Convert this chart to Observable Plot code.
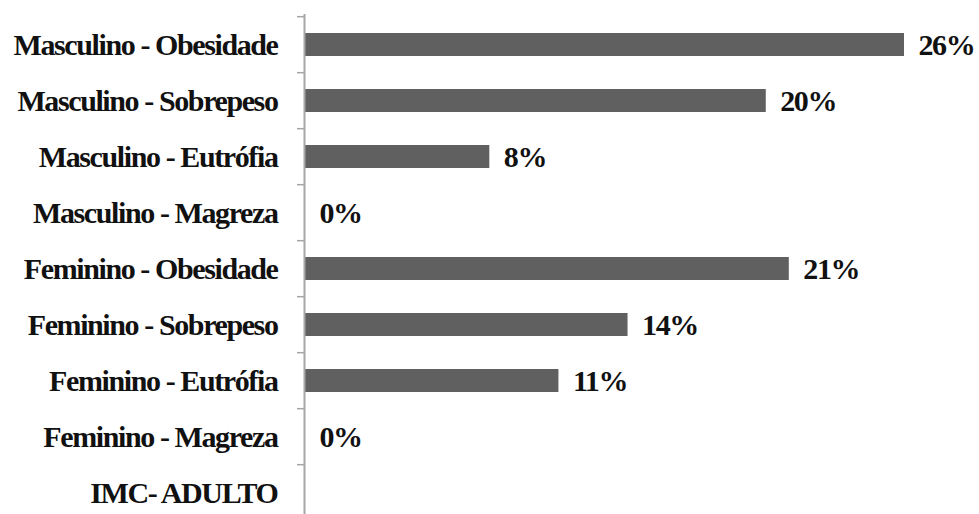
<!DOCTYPE html>
<html>
<head>
<meta charset="utf-8">
<script src="https://cdn.jsdelivr.net/npm/d3@7"></script>
<script src="https://cdn.jsdelivr.net/npm/@observablehq/plot@0.6"></script>
<style>
  html, body { margin: 0; padding: 0; background: #ffffff; }
  #chart { width: 979px; height: 514px; overflow: hidden; }
  #chart svg, #chart svg text { font-family: "Liberation Serif", "Times New Roman", Times, serif !important; }
</style>
</head>
<body>
<div id="chart"></div>
<script>
// Categories, top to bottom
const categories = [
  "Masculino - Obesidade",
  "Masculino - Sobrepeso",
  "Masculino - Eutrófia",
  "Masculino - Magreza",
  "Feminino - Obesidade",
  "Feminino - Sobrepeso",
  "Feminino - Eutrófia",
  "Feminino - Magreza",
  "IMC- ADULTO"
];
// Percentages (the last row is a heading with no value)
const values = [26, 20, 8, 0, 21, 14, 11, 0, null];

const rows = categories.map((category, i) => ({category, value: values[i]}))
  .filter(d => d.value != null);

const axisGray = "#a6a6a6";
const step = (523.6 - 14) / categories.length;

const chart = Plot.plot({
  width: 979,
  height: 514,
  marginTop: 14,
  marginBottom: 0,
  marginLeft: 305,
  marginRight: 75,
  style: {background: "#ffffff", color: "#111", letterSpacing: "-1.4px"},
  x: {domain: [0, d3.max(values)], axis: null},
  y: {domain: categories, range: [14, 523.6], paddingInner: 0.59, paddingOuter: 0.295, axis: null},
  marks: [
    Plot.barX(rows, {x: "value", y: "category", fill: "#606060"}),
    Plot.text(rows, {
      x: "value", y: "category", text: d => `${d.value}%`,
      dx: 14, textAnchor: "start", fontSize: 30, fontWeight: "bold", fill: "#111"
    }),
    // category labels
    Plot.axisY({tickSize: 0, tickPadding: 28, fontSize: 30, fontWeight: "bold", fill: "#111", label: null}),
    // tick marks between categories
    Plot.axisY({tickSize: 8, tickFormat: () => "", dy: -step / 2, stroke: axisGray, strokeWidth: 1.5, label: null}),
    Plot.ruleX([0], {stroke: axisGray, strokeWidth: 2, dx: -1})
  ]
});

document.getElementById("chart").append(chart);
</script>
</body>
</html>
